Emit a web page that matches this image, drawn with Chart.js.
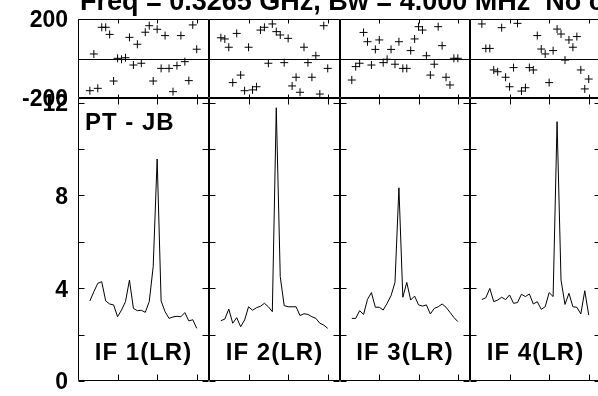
<!DOCTYPE html>
<html><head><meta charset="utf-8">
<script src="https://cdn.jsdelivr.net/npm/chart.js@4.4.1/dist/chart.umd.min.js"></script>
<style>
html,body{margin:0;padding:0;background:#fff;}
#fig{position:relative;width:598px;height:396px;overflow:hidden;background:#fff;}
#fig canvas{position:absolute;}
</style></head><body><div id="fig"></div>
<script>
// ---- data ----
const channels = [3,4,5,6,7,8,9,10,11,12,13,14,15,16,17,18,19,20,21,22,23,24,25,26,27,28,29,30];

const phaseIF1 = [-163,23,-151,158,158,122,-114,1,-4,4,107,-33,72,-24,133,166,-114,148,-50,116,-50,-168,-36,116,-16,-112,170,47];
const phaseIF2 = [105,99,57,-122,127,-84,-163,57,-159,-143,144,158,-24,175,136,119,-21,102,-139,-95,-171,57,-21,-95,14,-180,166,-50];
const phaseIF3 = [-109,-41,-24,132,85,-33,46,94,-21,-4,46,-29,85,-50,-50,40,99,161,144,14,-84,-29,161,65,-95,-134,1,1];
const phaseIF4 = [175,51,51,-58,-67,156,-95,-143,-46,178,-165,-148,-46,-58,116,48,23,-122,40,149,124,-8,94,57,111,-58,-154,-104];

const ampIF1 = [3.45,3.85,4.21,4.28,3.45,3.32,3.28,2.77,3.06,3.42,4.35,3.13,3.03,3.05,2.96,3.42,4.93,9.57,3.45,2.99,2.70,2.76,2.79,2.77,2.95,2.59,2.64,2.27];
const ampIF2 = [2.60,2.67,3.10,2.49,2.73,2.34,2.63,3.20,3.05,3.16,3.22,3.35,3.20,2.99,11.78,4.50,3.25,3.20,3.20,3.20,2.82,2.90,2.87,2.77,2.70,2.49,2.41,2.27];
const ampIF3 = [2.70,2.70,3.03,2.87,3.52,3.81,3.18,3.18,3.06,3.35,3.68,4.25,8.33,3.61,4.25,3.49,3.66,3.28,3.23,3.28,2.89,3.13,3.20,3.32,3.18,2.96,2.74,2.56];
const ampIF4 = [3.51,3.59,3.99,3.42,3.49,3.61,3.51,3.71,3.35,3.38,3.74,3.64,3.75,3.32,3.42,3.09,3.20,3.81,3.64,11.18,4.35,3.30,3.78,3.20,3.18,2.89,3.89,2.84];

const ifLabels = ['IF 1(LR)','IF 2(LR)','IF 3(LR)','IF 4(LR)'];
const baselineLabel = 'PT - JB';
const titleText = 'Freq = 0.3265 GHz, Bw = 4.000 MHz  No calibration';

const chanTicks = [10,20,30];
const phaseTicks = [-200,0,200];
const phaseTickLabels = [200,-200];
const ampTicks = [0,2,4,6,8,10,12];
const ampTickLabels = [0,4,8,12];

const phaseSeries = [phaseIF1,phaseIF2,phaseIF3,phaseIF4];
const ampSeries = [ampIF1,ampIF2,ampIF3,ampIF4];

// ---- layout ----
const FONT = '"Liberation Sans", Arial, Helvetica, sans-serif';
const colLeft = [78,209,340,470];
const colRight = [209,340,470,601];
const xMin = 0, xMax = 33.1;
const PAD = 30;                 // vertical canvas padding around each plot area
const phaseTop = 19, phaseBottom = 98;
const ampTop = 98, ampBottom = 381;

const framePlugin = {
  id: 'panelFrame',
  afterDatasetsDraw(chart, args, o) {
    const ctx = chart.ctx, a = chart.chartArea, x = chart.scales.x, y = chart.scales.y;
    ctx.save();
    ctx.strokeStyle = '#000';
    ctx.lineWidth = 1;
    const L = Math.round(a.left) + 0.5, R = Math.round(a.right) - 0.5;
    const T = Math.round(a.top) + 0.5, B = Math.round(a.bottom) - 0.5;
    ctx.beginPath();
    ctx.rect(L, T, R - L, B - T);
    for (const v of o.xt) {
      const px = Math.round(x.getPixelForValue(v)) + 0.5;
      ctx.moveTo(px, T); ctx.lineTo(px, T + o.topLen);
      ctx.moveTo(px, B); ctx.lineTo(px, B - o.botLen);
    }
    for (const v of o.yt) {
      const py = Math.round(y.getPixelForValue(v)) + 0.5;
      ctx.moveTo(L, py); ctx.lineTo(L + o.sideLen, py);
      ctx.moveTo(R, py); ctx.lineTo(R - o.sideLen, py);
    }
    if (o.zeroLine) {
      const py = Math.round(y.getPixelForValue(0)) + 0.5;
      ctx.moveTo(L, py); ctx.lineTo(R, py);
    }
    ctx.stroke();
    ctx.fillStyle = '#000';
    for (const t of (o.texts || [])) {
      ctx.font = t.font;
      ctx.textBaseline = 'alphabetic';
      ctx.letterSpacing = t.spacing || '0px';
      let tx = t.x;
      if (t.align === 'center') {
        ctx.textAlign = 'center';
        tx = (a.left + a.right) / 2;
      } else {
        ctx.textAlign = 'left';
      }
      ctx.fillText(t.text, tx, t.y - o.offsetY);
    }
    ctx.letterSpacing = '0px';
    ctx.restore();
  }
};

const fig = document.getElementById('fig');
function addCanvas(left, top, w, h) {
  const c = document.createElement('canvas');
  c.width = w; c.height = h;
  c.style.left = left + 'px'; c.style.top = top + 'px';
  c.style.width = w + 'px'; c.style.height = h + 'px';
  fig.appendChild(c);
  return c;
}

function yAxis(min, max, step, labels, show) {
  return {
    type: 'linear', min: min, max: max, display: show,
    grid: { display: false, drawTicks: false },
    border: { display: false },
    ticks: {
      stepSize: step, includeBounds: false, autoSkip: false, padding: 10, labelOffset: 2,
      color: '#000', font: { family: FONT, size: 23, weight: 'bold' },
      callback: (v) => labels.includes(v) ? String(v) : ''
    },
    afterFit: (s) => { if (show) s.width = 78; }
  };
}
function xAxis() {
  return { type: 'linear', min: xMin, max: xMax, display: false,
    ticks: { stepSize: 10, includeBounds: false } };
}

for (let i = 0; i < 4; i++) {
  const first = i === 0;
  // phase panel
  const pw = first ? 598 : (colRight[i] - colLeft[i]) + 6;
  const pl = first ? 0 : colLeft[i] - 3;
  const pTopPage = phaseTop - PAD;
  const pc = addCanvas(pl, pTopPage, pw, (phaseBottom - phaseTop) + 2 * PAD);
  const phasePts = channels.map((c, k) => ({ x: c, y: phaseSeries[i][k] }));
  const phaseTexts = first ? [{ text: titleText, x: 80, y: 10, font: 'bold 27px ' + FONT, align: 'left' }] : [];
  new Chart(pc, {
    type: 'scatter',
    data: { datasets: [{ data: phasePts, pointStyle: 'cross', pointRadius: 4, borderColor: '#000',
      backgroundColor: '#000', borderWidth: 1, showLine: false }] },
    options: {
      responsive: false, animation: false, events: [],
      layout: { autoPadding: false, padding: { left: first ? 0 : 3, right: first ? 598 - 209 : 3, top: PAD, bottom: PAD } },
      plugins: { legend: { display: false }, tooltip: { enabled: false },
        panelFrame: { xt: chanTicks, yt: phaseTicks, topLen: 4, botLen: 3, sideLen: 5, zeroLine: true,
          texts: phaseTexts, offsetY: pTopPage } },
      scales: { x: xAxis(), y: yAxis(-200, 200, 200, phaseTickLabels, first) }
    },
    plugins: [framePlugin]
  });

  // amplitude panel
  const aw = first ? 212 : (colRight[i] - colLeft[i]) + 6;
  const al = first ? 0 : colLeft[i] - 3;
  const aTopPage = ampTop - PAD;
  const ac = addCanvas(al, aTopPage, aw, (ampBottom - ampTop) + 2 * PAD);
  const ampPts = channels.map((c, k) => ({ x: c, y: ampSeries[i][k] }));
  const ampTexts = [{ text: ifLabels[i], x: 0, y: 360, font: 'bold 24px ' + FONT, align: 'center', spacing: '1px' }];
  if (first) ampTexts.push({ text: baselineLabel, x: 85, y: 130, font: 'bold 24px ' + FONT, align: 'left', spacing: '1px' });
  new Chart(ac, {
    type: 'scatter',
    data: { datasets: [{ data: ampPts, showLine: true, pointRadius: 0, borderColor: '#000',
      borderWidth: 1, tension: 0, fill: false }] },
    options: {
      responsive: false, animation: false, events: [],
      layout: { autoPadding: false, padding: { left: first ? 0 : 3, right: 3, top: PAD, bottom: PAD } },
      plugins: { legend: { display: false }, tooltip: { enabled: false },
        panelFrame: { xt: chanTicks, yt: ampTicks, topLen: 6, botLen: 6, sideLen: 6, zeroLine: false,
          texts: ampTexts, offsetY: aTopPage } },
      scales: { x: xAxis(), y: yAxis(0, 12.2, 2, ampTickLabels, first) }
    },
    plugins: [framePlugin]
  });
}
</script></body></html>
